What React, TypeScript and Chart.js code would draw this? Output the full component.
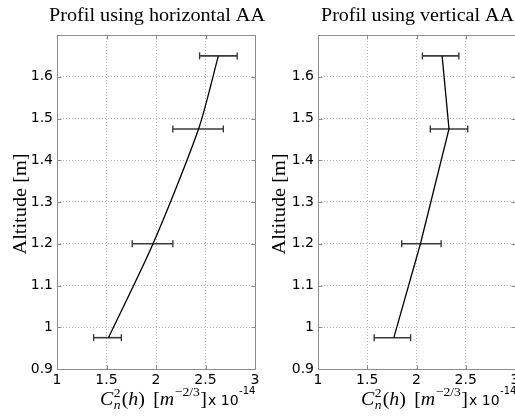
import React, { useEffect, useRef } from 'react';
import { Chart, registerables } from 'chart.js';

Chart.register(...registerables);

// ---- data ----
const altitude = [1.65, 1.475, 1.2, 0.975];
const horizontalCn2 = [2.63, 2.43, 1.97, 1.52];
const horizontalLow = [2.44, 2.17, 1.76, 1.37];
const horizontalHigh = [2.82, 2.68, 2.17, 1.65];
const verticalCn2 = [2.26, 2.33, 2.04, 1.77];
const verticalLow = [2.06, 2.14, 1.85, 1.57];
const verticalHigh = [2.43, 2.52, 2.25, 1.94];
const xRange = [1, 3];
const xStep = 0.5;
const yRange = [0.9, 1.7];
const yStep = 0.1;
const titleHorizontal = 'Profil using horizontal AA';
const titleVertical = 'Profil using vertical AA';
const yAxisLabel = 'Altitude [m]';
const xExponent = '-14';

const W = 515;
const H = 417;
const SERIF = '"Liberation Serif", "Times New Roman", serif';
const SANS = '"DejaVu Sans", sans-serif';

type PanelCfg = {
  canvasLeft: number;
  canvasWidth: number;
  area: { left: number; right: number; top: number; bottom: number };
  title: string;
  titleWidth: number;
  yLabelX: number;
  mathLeft: number;
  mean: number[];
  low: number[];
  high: number[];
  tension: number;
};

const panels: PanelCfg[] = [
  {
    canvasLeft: 0,
    canvasWidth: 280,
    area: { left: 57, right: 255, top: 35, bottom: 369 },
    title: titleHorizontal,
    titleWidth: 216,
    yLabelX: 26,
    mathLeft: 100,
    mean: horizontalCn2,
    low: horizontalLow,
    high: horizontalHigh,
    tension: 0.25,
  },
  {
    canvasLeft: 258,
    canvasWidth: 270,
    area: { left: 318, right: 515, top: 35, bottom: 369 },
    title: titleVertical,
    titleWidth: 193,
    yLabelX: 285,
    mathLeft: 361,
    mean: verticalCn2,
    low: verticalLow,
    high: verticalHigh,
    tension: 0,
  },
];

function fmt(v: number | string) {
  return String(Number(Number(v).toFixed(2)));
}

function stretchText(
  ctx: CanvasRenderingContext2D,
  text: string,
  font: string,
  cx: number,
  baseline: number,
  targetWidth: number
) {
  ctx.save();
  ctx.font = font;
  const w = ctx.measureText(text).width;
  const s = targetWidth / w;
  ctx.translate(cx, baseline);
  ctx.scale(s, 1);
  ctx.textAlign = 'center';
  ctx.textBaseline = 'alphabetic';
  ctx.fillText(text, 0, 0);
  ctx.restore();
}

function drawMathLabel(ctx: CanvasRenderingContext2D, left: number, baseline: number, targetWidth: number) {
  const big = 19;
  const small = 13;
  const it = (s: number) => `italic ${s}px ${SERIF}`;
  const up = (s: number) => `${s}px ${SERIF}`;
  type Piece = { t: string; f: string; dy: number; gap?: number; stack?: { t: string; f: string; dy: number } };
  const pieces: Piece[] = [
    { t: 'C', f: it(big), dy: 0, gap: 0.5 },
    { t: '2', f: up(small), dy: -8, stack: { t: 'n', f: it(small), dy: 4 }, gap: 1 },
    { t: '(', f: up(big), dy: 0 },
    { t: 'h', f: it(big), dy: 0 },
    { t: ')', f: up(big), dy: 0, gap: 8 },
    { t: '[', f: up(big), dy: 0 },
    { t: 'm', f: it(big), dy: 0, gap: 0.5 },
    { t: '\u22122/3', f: up(small), dy: -9, gap: 0.5 },
    { t: ']', f: up(big), dy: 0 },
  ];
  ctx.save();
  let total = 0;
  const widths = pieces.map((p) => {
    ctx.font = p.f;
    let w = ctx.measureText(p.t).width;
    if (p.stack) {
      ctx.font = p.stack.f;
      w = Math.max(w, ctx.measureText(p.stack.t).width);
    }
    total += w + (p.gap || 0);
    return w;
  });
  const s = targetWidth / total;
  ctx.translate(left, baseline);
  ctx.scale(s, 1);
  ctx.textAlign = 'left';
  ctx.textBaseline = 'alphabetic';
  ctx.fillStyle = '#000';
  let x = 0;
  pieces.forEach((p, i) => {
    ctx.font = p.f;
    ctx.fillText(p.t, x, p.dy);
    if (p.stack) {
      ctx.font = p.stack.f;
      ctx.fillText(p.stack.t, x, p.stack.dy);
    }
    x += widths[i] + (p.gap || 0);
  });
  ctx.restore();
  return left + targetWidth;
}

function ChartPanel({ cfg }: { cfg: PanelCfg }) {
  const ref = useRef<HTMLCanvasElement>(null);

  useEffect(() => {
    const canvas = ref.current!;
    const off = cfg.canvasLeft;
    const area = cfg.area;

    const datasets: any[] = [
      {
        data: altitude.map((y, i) => ({ x: cfg.mean[i], y })),
        showLine: true,
        borderColor: '#000',
        borderWidth: 1.3,
        pointRadius: 0,
        tension: cfg.tension,
        order: 0,
      },
    ];
    altitude.forEach((y, i) => {
      datasets.push({
        data: [
          { x: cfg.low[i], y },
          { x: cfg.high[i], y },
        ],
        showLine: true,
        borderColor: '#3a3a3a',
        borderWidth: 1.6,
        pointStyle: 'line',
        rotation: 90,
        pointRadius: 3.5,
        pointBorderColor: '#3a3a3a',
        pointBorderWidth: 1.4,
        pointHoverRadius: 0,
        order: 1,
      });
    });

    const framePlugin = {
      id: 'frame',
      afterDraw(chart: any) {
        const ctx: CanvasRenderingContext2D = chart.ctx;
        const a = chart.chartArea;
        const xs = chart.scales.x;
        const ys = chart.scales.y;
        ctx.save();
        ctx.strokeStyle = '#8c8c8c';
        ctx.lineWidth = 1;
        const L = Math.round(a.left) + 0.5;
        const R = Math.round(a.right) + 0.5;
        const T = Math.round(a.top) + 0.5;
        const B = Math.round(a.bottom) + 0.5;
        ctx.beginPath();
        ctx.moveTo(L, T);
        ctx.lineTo(R, T);
        ctx.lineTo(R, B);
        ctx.lineTo(L, B);
        ctx.closePath();
        xs.ticks.forEach((t: any) => {
          const px = Math.round(xs.getPixelForValue(t.value)) + 0.5;
          ctx.moveTo(px, B);
          ctx.lineTo(px, B - 4);
          ctx.moveTo(px, T);
          ctx.lineTo(px, T + 4);
        });
        ys.ticks.forEach((t: any) => {
          const py = Math.round(ys.getPixelForValue(t.value)) + 0.5;
          ctx.moveTo(L, py);
          ctx.lineTo(L + 4, py);
          ctx.moveTo(R, py);
          ctx.lineTo(R - 4, py);
        });
        ctx.stroke();
        ctx.restore();

        ctx.save();
        ctx.fillStyle = '#000';
        // title
        const cx = (area.left + area.right) / 2 - off + 1;
        stretchText(ctx, cfg.title, `19px ${SERIF}`, cx, 21, cfg.titleWidth);
        // y label (rotated)
        ctx.save();
        ctx.translate(cfg.yLabelX - off, (area.top + area.bottom) / 2 + 2);
        ctx.rotate(-Math.PI / 2);
        stretchText(ctx, yAxisLabel, `19px ${SERIF}`, 0, 0, 101);
        ctx.restore();
        // x label
        const end = drawMathLabel(ctx, cfg.mathLeft - off, 405, 107);
        ctx.font = `14px ${SANS}`;
        ctx.textAlign = 'left';
        ctx.textBaseline = 'alphabetic';
        const xPart = 'x 10';
        ctx.fillText(xPart, end + 1, 405);
        const w1 = ctx.measureText(xPart).width;
        ctx.font = `10px ${SANS}`;
        ctx.fillText(xExponent, end + 1 + w1 + 0.5, 394);
        ctx.restore();
      },
    };

    const chart = new Chart(canvas, {
      type: 'scatter',
      data: { datasets },
      options: {
        animation: false,
        responsive: false,
        events: [],
        devicePixelRatio: 1,
        layout: {
          padding: {
            left: 0,
            top: area.top,
            right: cfg.canvasWidth - (area.right - off),
            bottom: 0,
          },
        },
        plugins: {
          legend: { display: false },
          tooltip: { enabled: false },
          title: { display: false },
        },
        scales: {
          x: {
            type: 'linear',
            min: xRange[0],
            max: xRange[1],
            ticks: {
              stepSize: xStep,
              color: '#000',
              font: { family: SANS, size: 14 },
              padding: 3,
              maxRotation: 0,
              autoSkip: false,
              callback: (v: any) => fmt(v),
            },
            grid: { color: '#b8b8b8', lineWidth: 1, drawTicks: false },
            border: { display: false, dash: [1, 2] },
            afterFit: (s: any) => {
              s.height = H - area.bottom;
            },
          },
          y: {
            type: 'linear',
            min: yRange[0],
            max: yRange[1],
            ticks: {
              stepSize: yStep,
              color: '#000',
              font: { family: SANS, size: 14 },
              padding: 4,
              autoSkip: false,
              callback: (v: any) => (Number(v) > yRange[1] - yStep / 2 ? '' : fmt(v)),
            },
            grid: { color: '#b8b8b8', lineWidth: 1, drawTicks: false },
            border: { display: false, dash: [1, 2] },
            afterFit: (s: any) => {
              s.width = area.left - off;
            },
          },
        },
      } as any,
      plugins: [framePlugin],
    });
    return () => chart.destroy();
  }, [cfg]);

  return (
    <canvas
      ref={ref}
      width={cfg.canvasWidth}
      height={H}
      style={{
        position: 'absolute',
        left: cfg.canvasLeft,
        top: 0,
        width: cfg.canvasWidth,
        height: H,
      }}
    />
  );
}

export default function App() {
  return (
    <div
      style={{
        position: 'fixed',
        left: 0,
        top: 0,
        width: W,
        height: H,
        overflow: 'hidden',
        background: '#fff',
      }}
    >
      {panels.map((p, i) => (
        <ChartPanel key={i} cfg={p} />
      ))}
    </div>
  );
}
